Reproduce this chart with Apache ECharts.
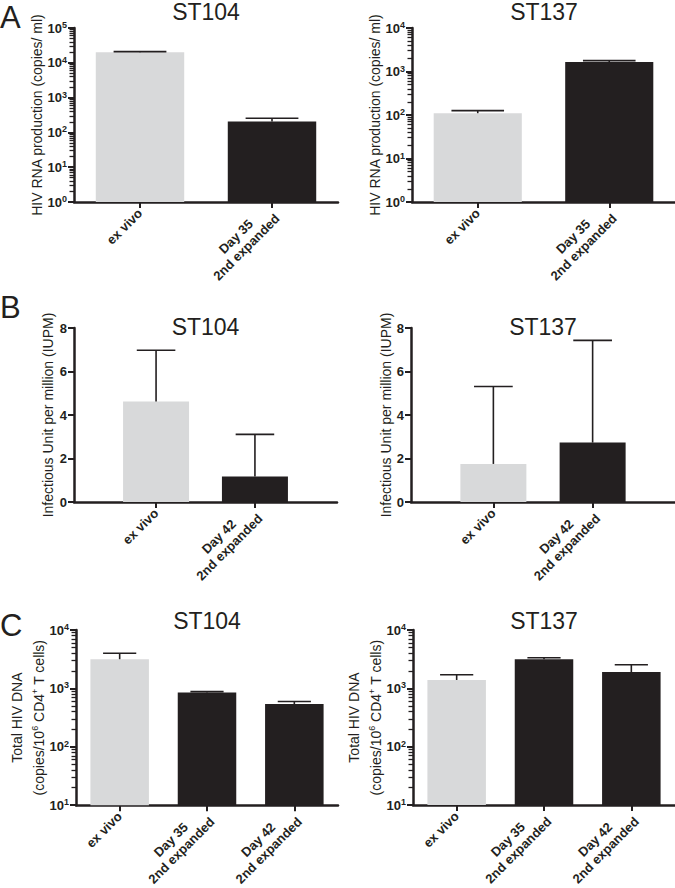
<!DOCTYPE html>
<html><head><meta charset="utf-8">
<script src="https://cdn.jsdelivr.net/npm/echarts@6/dist/echarts.min.js"></script>
<style>html,body{margin:0;padding:0;background:#fff}#c{width:675px;height:888px}</style>
</head><body><div id="c"></div>
<script>
// ---- data ----
const catsA = ['ex vivo', 'Day 35\n2nd expanded'];
const catsB = ['ex vivo', 'Day 42\n2nd expanded'];
const catsC = ['ex vivo', 'Day 35\n2nd expanded', 'Day 42\n2nd expanded'];
const panelTitles = ['ST104', 'ST137'];
const panelLetters = ['A', 'B', 'C'];
const rnaST104 = [20000, 205];
const rnaST104Err = [1000, 50];
const rnaST137 = [110, 1650];
const rnaST137Err = [16, 130];
const iupmST104 = [4.62, 1.17];
const iupmST104Err = [2.36, 1.94];
const iupmST137 = [1.75, 2.73];
const iupmST137Err = [3.56, 4.70];
const dnaST104 = [3160, 850, 540];
const dnaST104Err = [840, 30, 57];
const dnaST137 = [1390, 3140, 1900];
const dnaST137Err = [320, 210, 640];
const rnaTicksST104 = [1, 10, 100, 1000, 10000, 100000];
const rnaTicksST137 = [1, 10, 100, 1000, 10000];
const iupmTicks = [0, 2, 4, 6, 8];
const dnaTicks = [10, 100, 1000, 10000];
const nameRNA = 'HIV RNA production (copies/ ml)';
const nameIUPM = 'Infectious Unit per million (IUPM)';
const nameDNA1 = 'Total HIV DNA';
const nameDNA2 = ['(copies/10', '6', ' CD4', '+', ' T cells)'];

// ---- styles ----
const FONT = 'Liberation Sans, Arial, Helvetica, sans-serif';
const BLACK = '#231f20';
const GRAY = '#d8d9da';
const AXW = 2.5;

function minorOf(ticks) {
  const out = [];
  for (let i = 0; i < ticks.length - 1; i++) for (let k = 2; k <= 9; k++) out.push(ticks[i] * k);
  return out;
}
const supRich = {
  b: {fontFamily: FONT, fontSize: 13, fontWeight: 'bold', color: BLACK, lineHeight: 15},
  s: {fontFamily: FONT, fontSize: 9, fontWeight: 'bold', color: BLACK, lineHeight: 9, verticalAlign: 'top'}
};
function powLabel(v) { return '{b|10}{s|' + Math.round(Math.log10(v)) + '}'; }
function catLabel(s) { return s.split('\n').map(t => '{c|' + t + '}').join('\n'); }
const catRich = {c: {fontFamily: FONT, fontSize: 13, fontWeight: 'bold', color: BLACK, align: 'center', lineHeight: 15}};
const nameStyle = {fontFamily: FONT, fontSize: 14, color: BLACK};

function logAxes(grid, ticks, name, gap, rich) {
  const min = ticks[0], max = ticks[ticks.length - 1];
  return [{
    gridIndex: grid, type: 'log', logBase: 10, min: min, max: max, startValue: min, position: 'left',
    axisLine: {show: true, onZero: false, lineStyle: {color: BLACK, width: AXW}},
    axisTick: {show: true, length: 6, lineStyle: {color: BLACK, width: 2}, customValues: ticks},
    axisLabel: {customValues: ticks, margin: 7, formatter: powLabel, rich: supRich},
    splitLine: {show: false}, minorTick: {show: false},
    name: name, nameLocation: 'middle', nameGap: gap, nameTextStyle: rich || nameStyle
  }, {
    gridIndex: grid, type: 'log', logBase: 10, min: min, max: max, position: 'left',
    axisLine: {show: false, onZero: false},
    axisTick: {show: true, length: 4.5, lineStyle: {color: BLACK, width: 1.3}, customValues: minorOf(ticks)},
    axisLabel: {show: false}, splitLine: {show: false}
  }];
}
function linAxis(grid, ticks, name, gap) {
  return {
    gridIndex: grid, type: 'value', min: ticks[0], max: ticks[ticks.length - 1], interval: ticks[1] - ticks[0],
    position: 'left',
    axisLine: {show: true, onZero: false, lineStyle: {color: BLACK, width: AXW}},
    axisTick: {show: true, length: 6, lineStyle: {color: BLACK, width: 2}},
    axisLabel: {margin: 7, fontFamily: FONT, fontSize: 13, fontWeight: 'bold', color: BLACK},
    splitLine: {show: false},
    name: name, nameLocation: 'middle', nameGap: gap, nameTextStyle: nameStyle
  };
}
function catAxis(grid, cats) {
  return {
    gridIndex: grid, type: 'category', data: cats, position: 'bottom',
    axisLine: {show: true, onZero: false, lineStyle: {color: BLACK, width: AXW}},
    axisTick: {show: true, alignWithLabel: true, length: 6, lineStyle: {color: BLACK, width: 2}},
    axisLabel: {rotate: 45, margin: 9, interval: 0, formatter: catLabel, rich: catRich},
    splitLine: {show: false}
  };
}
function valCatAxis(grid, cats) {
  const idx = cats.map((_, i) => i);
  return {
    gridIndex: grid, type: 'value', min: -0.83, max: cats.length - 1 + 0.83, position: 'bottom',
    axisLine: {show: true, onZero: false, lineStyle: {color: BLACK, width: AXW}},
    axisTick: {show: true, length: 6, lineStyle: {color: BLACK, width: 2}, customValues: idx},
    axisLabel: {rotate: 45, margin: 9, customValues: idx, formatter: v => catLabel(cats[Math.round(v)]), rich: catRich},
    splitLine: {show: false}
  };
}
function barSeries(xi, yi, vals, valueX, width) {
  const s = {
    type: 'bar', xAxisIndex: xi, yAxisIndex: yi, clip: true, silent: true,
    data: vals.map((v, i) => ({value: valueX ? [i, v] : v, itemStyle: {color: i === 0 ? GRAY : BLACK}}))
  };
  if (width) s.barWidth = width; else s.barCategoryGap = '33%';
  return s;
}
function errSeries(xi, yi, vals, errs, capFrac) {
  return {
    type: 'custom', xAxisIndex: xi, yAxisIndex: yi, silent: true, z: 3,
    data: vals.map((v, i) => [i, v, v + errs[i]]),
    encode: {x: 0, y: [1, 2]},
    renderItem: function (params, api) {
      const x = api.value(0), lo = api.value(1), hi = api.value(2);
      const p0 = api.coord([x, lo]), p1 = api.coord([x, hi]);
      const band = api.size([1, 0])[0];
      const hw = band * capFrac / 2;
      const st = {stroke: BLACK, lineWidth: 1.6};
      return {type: 'group', children: [
        {type: 'line', shape: {x1: p0[0], y1: p0[1], x2: p1[0], y2: p1[1]}, style: st},
        {type: 'line', shape: {x1: p1[0] - hw, y1: p1[1], x2: p1[0] + hw, y2: p1[1]}, style: st}
      ]};
    }
  };
}

const grids = [
  {left: 74, top: 28, width: 264, height: 174},
  {left: 412, top: 28, width: 264, height: 174},
  {left: 74, top: 328, width: 263, height: 174},
  {left: 411, top: 328, width: 264, height: 174},
  {left: 76, top: 630, width: 262, height: 176},
  {left: 413, top: 630, width: 262, height: 175}
];

const dnaNameRich = {
  rich: {
    n: {fontFamily: FONT, fontSize: 14, color: BLACK, lineHeight: 22},
    s: {fontFamily: FONT, fontSize: 9, color: BLACK, lineHeight: 9, verticalAlign: 'top', padding: [3, 0, 0, 0]}
  }
};
const dnaName = '{n|' + nameDNA1 + '}\n' +
  '{n|' + nameDNA2[0] + '}{s|' + nameDNA2[1] + '}{n|' + nameDNA2[2] + '}{s|' + nameDNA2[3] + '}{n|' + nameDNA2[4] + '}';

const yAxes = [].concat(
  logAxes(0, rnaTicksST104, nameRNA, 30),
  logAxes(1, rnaTicksST137, nameRNA, 28),
  [linAxis(2, iupmTicks, nameIUPM, 19), linAxis(3, iupmTicks, nameIUPM, 18)],
  logAxes(4, dnaTicks, dnaName, 21, dnaNameRich),
  logAxes(5, dnaTicks, dnaName, 20, dnaNameRich)
);
const xAxes = [
  catAxis(0, catsA), catAxis(1, catsA),
  valCatAxis(2, catsB), valCatAxis(3, catsB),
  catAxis(4, catsC), catAxis(5, catsC)
];
const series = [
  barSeries(0, 0, rnaST104), errSeries(0, 0, rnaST104, rnaST104Err, 0.4),
  barSeries(1, 2, rnaST137), errSeries(1, 2, rnaST137, rnaST137Err, 0.4),
  barSeries(2, 4, iupmST104, true, 66), errSeries(2, 4, iupmST104, iupmST104Err, 0.39),
  barSeries(3, 5, iupmST137, true, 66), errSeries(3, 5, iupmST137, iupmST137Err, 0.39),
  barSeries(4, 6, dnaST104), errSeries(4, 6, dnaST104, dnaST104Err, 0.38),
  barSeries(5, 8, dnaST137), errSeries(5, 8, dnaST137, dnaST137Err, 0.38)
];

const titleStyle = {fontFamily: FONT, fontSize: 23, lineHeight: 23, fontWeight: 'normal', color: BLACK};
const letterStyle = {fontFamily: FONT, fontSize: 31, lineHeight: 31, fontWeight: 'normal', color: BLACK};
const titleTops = [0, 315, 609];
const letterTops = [2, 292, 610];
const titles = [];
for (let r = 0; r < 3; r++) {
  for (let c = 0; c < 2; c++) {
    const g = grids[r * 2 + c];
    titles.push({text: panelTitles[c], left: g.left + g.width / 2, top: titleTops[r], textAlign: 'center', padding: 0, textStyle: titleStyle});
  }
  titles.push({text: panelLetters[r], left: 0, top: letterTops[r], padding: 0, textStyle: letterStyle});
}

const chart = echarts.init(document.getElementById('c'), null, {renderer: 'svg'});
chart.setOption({
  animation: false,
  backgroundColor: '#fff',
  textStyle: {fontFamily: FONT},
  title: titles,
  grid: grids,
  xAxis: xAxes,
  yAxis: yAxes,
  series: series
});
</script></body></html>
